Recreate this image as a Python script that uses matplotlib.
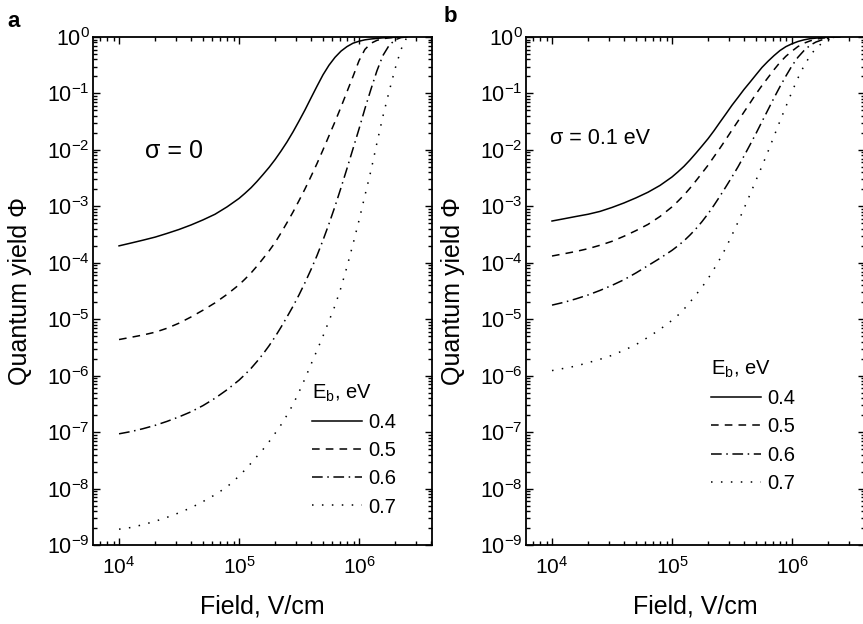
import matplotlib
matplotlib.use("Agg")
import numpy as np
import matplotlib.pyplot as plt
from matplotlib.ticker import LogLocator, NullFormatter

plt.rcParams['font.family'] = ['Liberation Sans', 'DejaVu Sans']
plt.rcParams['mathtext.fontset'] = 'custom'
plt.rcParams['mathtext.rm'] = 'Liberation Sans'

energies = ['0.4', '0.5', '0.6', '0.7']

# field values (V/cm) where the curves were read
field = [1.0e4, 1.26e4, 1.58e4, 2.0e4, 2.51e4, 3.16e4, 3.98e4, 5.01e4, 6.31e4, 7.94e4,
         1.0e5, 1.12e5, 1.26e5, 1.41e5, 1.58e5, 1.78e5, 2.0e5, 2.24e5, 2.51e5, 2.82e5,
         3.16e5, 3.55e5, 3.98e5, 4.47e5, 5.01e5, 5.62e5, 6.31e5, 7.08e5, 7.94e5, 8.91e5,
         1.0e6, 1.12e6, 1.26e6, 1.41e6, 1.58e6, 1.78e6, 2.0e6, 2.24e6, 2.51e6]

# quantum yield, given as decade exponents (log10 of yield)
# panel a, sigma = 0
a_exp04 = [-3.70, -3.65, -3.60, -3.545, -3.48, -3.41, -3.33, -3.24, -3.14, -3.01,
           -2.86, -2.77, -2.67, -2.56, -2.44, -2.31, -2.17, -2.02, -1.86, -1.68,
           -1.49, -1.29, -1.08, -0.87, -0.67, -0.50, -0.36, -0.25, -0.17, -0.11,
           -0.075, -0.05, -0.035, -0.025, -0.015, -0.01, -0.005, 0.0, 0.0]
a_exp05 = [-5.36, -5.32, -5.28, -5.23, -5.16, -5.07, -4.96, -4.84, -4.71, -4.56,
           -4.39, -4.29, -4.18, -4.06, -3.93, -3.79, -3.64, -3.47, -3.29, -3.10,
           -2.90, -2.69, -2.47, -2.24, -2.00, -1.75, -1.50, -1.24, -0.97, -0.70,
           -0.42, -0.22, -0.11, -0.06, -0.03, -0.015, -0.005, 0.0, 0.0]
a_exp06 = [-7.03, -6.99, -6.94, -6.88, -6.81, -6.73, -6.64, -6.53, -6.40, -6.25,
           -6.08, -5.98, -5.87, -5.75, -5.62, -5.47, -5.31, -5.14, -4.96, -4.77,
           -4.57, -4.35, -4.12, -3.87, -3.60, -3.31, -3.00, -2.67, -2.33, -1.98,
           -1.63, -1.27, -0.92, -0.60, -0.33, -0.15, -0.05, -0.01, 0.0]
a_exp07 = [-8.72, -8.69, -8.64, -8.58, -8.51, -8.43, -8.34, -8.23, -8.11, -7.97,
           -7.78, -7.67, -7.55, -7.43, -7.31, -7.17, -7.02, -6.87, -6.70, -6.51,
           -6.29, -6.05, -5.80, -5.55, -5.30, -5.03, -4.76, -4.44, -4.07, -3.67,
           -3.25, -2.81, -2.36, -1.88, -1.41, -0.97, -0.56, -0.22, 0.0]

# panel b, sigma = 0.1 eV
b_exp04 = [-3.26, -3.22, -3.18, -3.14, -3.09, -3.02, -2.94, -2.85, -2.75, -2.63,
           -2.48, -2.39, -2.29, -2.18, -2.06, -1.93, -1.80, -1.66, -1.51, -1.36,
           -1.21, -1.07, -0.93, -0.80, -0.67, -0.54, -0.43, -0.33, -0.24, -0.17,
           -0.12, -0.08, -0.05, -0.03, -0.02, -0.01, 0.0, 0.0, 0.0]
b_exp05 = [-3.88, -3.84, -3.80, -3.75, -3.69, -3.62, -3.53, -3.43, -3.32, -3.18,
           -3.01, -2.91, -2.80, -2.68, -2.55, -2.41, -2.27, -2.12, -1.97, -1.81,
           -1.65, -1.49, -1.33, -1.17, -1.01, -0.86, -0.72, -0.58, -0.45, -0.34,
           -0.25, -0.17, -0.11, -0.07, -0.04, -0.02, -0.01, 0.0, 0.0]
b_exp06 = [-4.75, -4.70, -4.64, -4.57, -4.49, -4.40, -4.30, -4.18, -4.05, -3.92,
           -3.78, -3.70, -3.61, -3.51, -3.40, -3.27, -3.13, -2.98, -2.82, -2.65,
           -2.48, -2.30, -2.11, -1.91, -1.71, -1.50, -1.29, -1.08, -0.88, -0.69,
           -0.51, -0.36, -0.24, -0.15, -0.09, -0.05, -0.02, -0.005, 0.0]
b_exp07 = [-5.91, -5.87, -5.83, -5.77, -5.71, -5.64, -5.55, -5.45, -5.32, -5.18,
           -5.02, -4.93, -4.82, -4.70, -4.57, -4.43, -4.28, -4.11, -3.93, -3.73,
           -3.51, -3.28, -3.04, -2.79, -2.54, -2.29, -2.03, -1.76, -1.49, -1.23,
           -0.97, -0.73, -0.51, -0.34, -0.20, -0.11, -0.05, -0.01, 0.0]

panel_a = [a_exp04, a_exp05, a_exp06, a_exp07]
panel_b = [b_exp04, b_exp05, b_exp06, b_exp07]

styles = ['-', (0, (5, 4)), (0, (7, 3, 1, 3)), (0, (1, 5.5))]

fig = plt.figure(figsize=(8.63, 6.24), dpi=100)
ax1 = fig.add_axes([0.1078, 0.1266, 0.3928, 0.8141])
ax2 = fig.add_axes([0.6095, 0.1266, 0.3928, 0.8141])


def setup(ax, curves, leg_pos):
    for exps, ls, lab in zip(curves, styles, energies):
        ax.plot(field, 10.0 ** np.array(exps), color='black', lw=1.1, linestyle=ls, label=lab)
    ax.set_xscale('log')
    ax.set_yscale('log')
    ax.set_xlim(6.07e3, 4.06e6)
    ax.set_ylim(1e-9, 1e0)
    ax.yaxis.set_major_locator(LogLocator(base=10, numticks=20))
    ax.yaxis.set_minor_locator(LogLocator(base=10, subs=range(2, 10), numticks=20))
    ax.yaxis.set_minor_formatter(NullFormatter())
    ax.xaxis.set_minor_formatter(NullFormatter())
    ax.tick_params(which='both', direction='in', top=True, right=True, width=1.0)
    ax.tick_params(which='major', length=5)
    ax.tick_params(which='minor', length=3)
    ax.tick_params(axis='x', which='major', labelsize=15, pad=8)
    ax.tick_params(axis='y', which='major', labelsize=15.5, pad=2.5)
    for s in ax.spines.values():
        s.set_linewidth(1.3)
    ax.set_xlabel('Field, V/cm', fontsize=18)
    ax.set_ylabel('Quantum yield Φ', fontsize=18)
    ax.xaxis.set_label_coords(0.5, -0.098)
    ax.yaxis.set_label_coords(-0.181, 0.5)
    ax.legend(title='E$_\\mathregular{b}$, eV', loc='upper left', bbox_to_anchor=leg_pos,
              frameon=False, fontsize=14.5, title_fontsize=14.5, handlelength=2.5,
              handletextpad=0.3, labelspacing=0.45, borderpad=0, borderaxespad=0,
              alignment='left')


setup(ax1, panel_a, (0.646, 0.319))
setup(ax2, panel_b, (0.546, 0.366))

fig.text(145 / 863, 1 - 158 / 624, 'σ = 0', fontsize=18, va='baseline')
fig.text(550 / 863, 1 - 144 / 624, 'σ = 0.1 eV', fontsize=15.5, va='baseline')

fig.text(14 / 863, 1 - 27 / 624, 'a', fontsize=16, fontweight='bold', ha='center', va='baseline')
fig.text(450 / 863, 1 - 22 / 624, 'b', fontsize=16, fontweight='bold', ha='center', va='baseline')

fig.savefig('out.png', dpi=100)
